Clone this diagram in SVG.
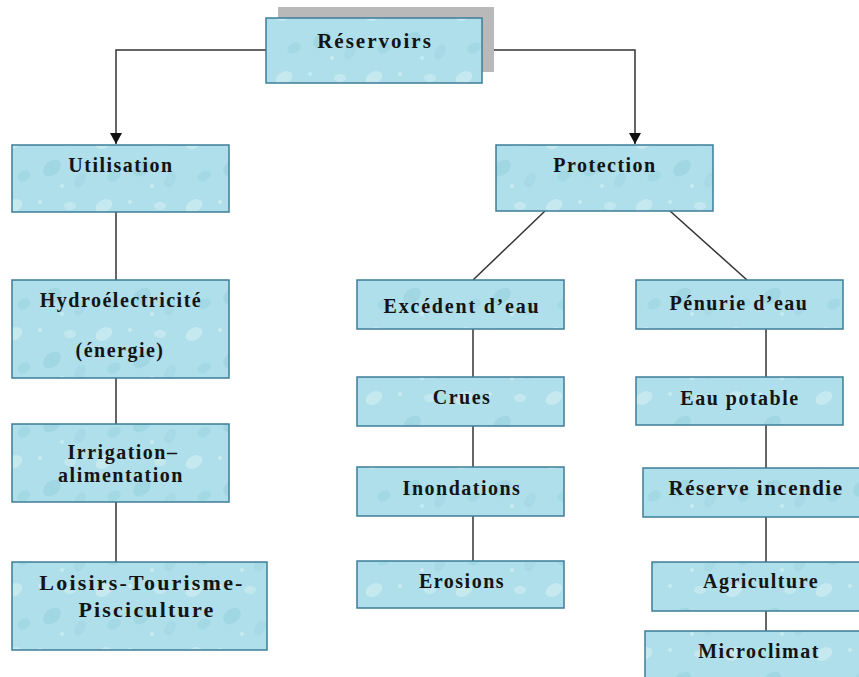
<svg xmlns="http://www.w3.org/2000/svg" width="859" height="677" viewBox="0 0 859 677">
<style>
  .box { fill: url(#water); stroke: #3d7d98; stroke-width: 1.5; }
  .lbl { font-family: "Liberation Serif", "Times New Roman", serif; font-weight: bold; font-size: 20px; letter-spacing: 1.5px; fill: #141414; text-anchor: middle; }
  .conn { stroke: #333; stroke-width: 1.5; fill: none; }
</style>
<defs>
  <pattern id="water" patternUnits="userSpaceOnUse" width="90" height="64">
    <rect width="90" height="64" fill="#aedfea"/>
    <ellipse cx="14" cy="14" rx="9" ry="6" fill="#ffffff" opacity="0.3" transform="rotate(-30 14 14)"/>
    <ellipse cx="52" cy="40" rx="10" ry="7" fill="#86c4d6" opacity="0.3" transform="rotate(-40 52 40)"/>
    <ellipse cx="70" cy="14" rx="6" ry="4" fill="#ffffff" opacity="0.25"/>
    <ellipse cx="24" cy="48" rx="7" ry="5" fill="#8ccadb" opacity="0.3" transform="rotate(-25 24 48)"/>
    <ellipse cx="80" cy="52" rx="5" ry="8" fill="#9ad0df" opacity="0.35" transform="rotate(30 80 52)"/>
    <circle cx="40" cy="10" r="2" fill="#ffffff" opacity="0.35"/>
    <circle cx="62" cy="58" r="2" fill="#ffffff" opacity="0.35"/>
  </pattern>
  <marker id="arrow" markerUnits="userSpaceOnUse" markerWidth="12" markerHeight="14" refX="11" refY="6" orient="auto">
    <path d="M0,0 L11,6 L0,12 Z" fill="#111"/>
  </marker>
</defs>

<g id="connectors">
  <path class="conn" d="M266,50 H116 V144" marker-end="url(#arrow)"/>
  <path class="conn" d="M482,50 H635 V144" marker-end="url(#arrow)"/>
  <line class="conn" x1="116" y1="212" x2="116" y2="280"/>
  <line class="conn" x1="116" y1="378" x2="116" y2="424"/>
  <line class="conn" x1="116" y1="502" x2="116" y2="562"/>
  <line class="conn" x1="545" y1="211" x2="473" y2="280"/>
  <line class="conn" x1="670" y1="211" x2="747" y2="280"/>
  <line class="conn" x1="473" y1="329" x2="473" y2="377"/>
  <line class="conn" x1="473" y1="426" x2="473" y2="467"/>
  <line class="conn" x1="473" y1="516" x2="473" y2="561"/>
  <line class="conn" x1="766" y1="329" x2="766" y2="377"/>
  <line class="conn" x1="766" y1="425" x2="766" y2="468"/>
  <line class="conn" x1="766" y1="517" x2="766" y2="562"/>
  <line class="conn" x1="766" y1="611" x2="766" y2="631"/>
</g>

<g id="reservoirs">
  <rect x="278" y="7" width="216" height="65" fill="#b9b9b9"/>
  <rect class="box" x="266" y="18" width="216" height="65"/>
  <text class="lbl" x="375" y="48" style="font-size:21px;letter-spacing:2px">Réservoirs</text>
</g>

<g id="utilisation">
  <rect class="box" x="12" y="145" width="217" height="67"/>
  <text class="lbl" x="121" y="172">Utilisation</text>
</g>

<g id="protection">
  <rect class="box" x="496" y="145" width="217" height="66"/>
  <text class="lbl" x="605" y="172">Protection</text>
</g>

<g id="hydro">
  <rect class="box" x="12" y="280" width="217" height="98"/>
  <text class="lbl" x="121" y="307">Hydroélectricité</text>
  <text class="lbl" x="120" y="357">(énergie)</text>
</g>

<g id="irrigation">
  <rect class="box" x="12" y="424" width="217" height="78"/>
  <text class="lbl" x="123" y="459">Irrigation–</text>
  <text class="lbl" x="121" y="482">alimentation</text>
</g>

<g id="loisirs">
  <rect class="box" x="12" y="562" width="255" height="88"/>
  <text class="lbl" x="142" y="590" style="font-size:22px;letter-spacing:2.2px">Loisirs-Tourisme-</text>
  <text class="lbl" x="147" y="617" style="font-size:22px;letter-spacing:2.2px">Pisciculture</text>
</g>

<g id="excedent">
  <rect class="box" x="357" y="280" width="207" height="49"/>
  <text class="lbl" x="462" y="313" style="letter-spacing:1.8px">Excédent d’eau</text>
</g>

<g id="crues">
  <rect class="box" x="357" y="377" width="207" height="49"/>
  <text class="lbl" x="462" y="404">Crues</text>
</g>

<g id="inondations">
  <rect class="box" x="357" y="467" width="207" height="49"/>
  <text class="lbl" x="462" y="495">Inondations</text>
</g>

<g id="erosions">
  <rect class="box" x="357" y="561" width="207" height="47"/>
  <text class="lbl" x="462" y="588">Erosions</text>
</g>

<g id="penurie">
  <rect class="box" x="636" y="280" width="207" height="49"/>
  <text class="lbl" x="739" y="310">Pénurie d’eau</text>
</g>

<g id="eau-potable">
  <rect class="box" x="636" y="377" width="207" height="48"/>
  <text class="lbl" x="740" y="405">Eau potable</text>
</g>

<g id="reserve-incendie">
  <rect class="box" x="643" y="468" width="224" height="49"/>
  <text class="lbl" x="756" y="495" style="font-size:21px">Réserve incendie</text>
</g>

<g id="agriculture">
  <rect class="box" x="652" y="562" width="216" height="49"/>
  <text class="lbl" x="761" y="588">Agriculture</text>
</g>

<g id="microclimat">
  <rect class="box" x="645" y="631" width="226" height="52"/>
  <text class="lbl" x="759" y="658">Microclimat</text>
</g>
</svg>
